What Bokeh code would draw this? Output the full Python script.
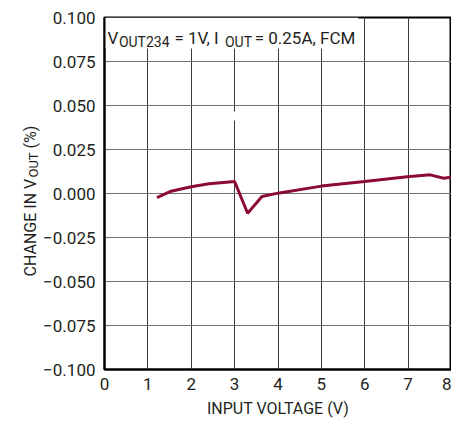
import math
from bokeh.plotting import figure
from bokeh.layouts import row
from bokeh.models import Range1d, FixedTicker, Label, BoxAnnotation
from bokeh.core.properties import value
from bokeh.embed import file_html
from bokeh.resources import INLINE

# ---- data ----
vin = [1.21, 1.51, 2.0, 2.41, 3.0, 3.30, 3.63, 4.0, 5.0, 6.0, 6.98, 7.51, 7.82, 8.0]
dvout = [-0.0023, 0.0011, 0.0038, 0.0055, 0.0068, -0.0112, -0.0017, 0.0002,
         0.0042, 0.0068, 0.0095, 0.0106, 0.0087, 0.0093]
x_ticks = [0, 1, 2, 3, 4, 5, 6, 7, 8]
y_ticks = [-0.1, -0.075, -0.05, -0.025, 0.0, 0.025, 0.05, 0.075, 0.1]
y_tick_labels = ["\u22120.100", "\u22120.075", "\u22120.050", "\u22120.025", "0.000",
                 "0.025", "0.050", "0.075", "0.100"]
x_title = "INPUT VOLTAGE (V)"
y_title_parts = ["CHANGE IN V", "OUT", "(%)"]

FONT = "Roboto"
TXT = "#231f20"

W, H = 451, 423
LW = 40            # width of the strip holding the vertical axis title
TOP, BOT = 17, 54  # frame borders (frames of the row are aligned)

# ---- strip with the rotated y-axis title (V with subscript OUT) ----
s = figure(width=LW, height=H, output_backend="svg", toolbar_location=None,
           x_axis_location=None, y_axis_location=None,
           x_range=Range1d(0, LW), y_range=Range1d(BOT, H - TOP),
           min_border_left=0, min_border_right=0, min_border_top=TOP, min_border_bottom=BOT)
s.grid.visible = False
s.outline_line_color = None
s.background_fill_color = "white"
s.border_fill_color = "white"
for txt, px, py, size in [(y_title_parts[0], 30, 276, "16px"),
                          (y_title_parts[1], 33, 177, "13px"),
                          (y_title_parts[2], 30, 148, "16px")]:
    s.text(x=[px], y=[H - py], text=[txt], angle=math.pi / 2,
           text_font=value(FONT), text_font_size=value(size), text_color=TXT,
           text_align="left", text_baseline="alphabetic")

# ---- main plot ----
p = figure(width=W - LW, height=H, output_backend="svg", toolbar_location=None,
           x_range=Range1d(0, 8), y_range=Range1d(-0.1, 0.1),
           min_border_left=101 - LW, min_border_right=0, min_border_top=TOP, min_border_bottom=BOT)

p.background_fill_color = "white"
p.border_fill_color = "white"
p.outline_line_color = "black"
p.outline_line_width = 2

for ax in (p.xaxis[0], p.yaxis[0]):
    ax.major_tick_line_color = None
    ax.minor_tick_line_color = None
    ax.major_tick_out = 0
    ax.major_tick_in = 0
    ax.axis_line_color = "black"
    ax.axis_line_width = 2
    ax.major_label_text_font = FONT
    ax.major_label_text_font_size = "17px"
    ax.major_label_text_color = TXT

p.xaxis.ticker = FixedTicker(ticks=x_ticks)
p.yaxis.ticker = FixedTicker(ticks=y_ticks)
p.yaxis.major_label_overrides = {t: s_ for t, s_ in zip(y_ticks, y_tick_labels)}
p.xaxis.major_label_standoff = 8
p.yaxis.major_label_standoff = 9

p.xaxis.axis_label = x_title
p.xaxis.axis_label_text_font = FONT
p.xaxis.axis_label_text_font_size = "16px"
p.xaxis.axis_label_text_font_style = "normal"
p.xaxis.axis_label_text_color = TXT
p.xaxis.axis_label_standoff = 6

p.xgrid.grid_line_color = "#3a3a3a"
p.xgrid.grid_line_width = 1
p.ygrid.grid_line_color = "#707070"
p.ygrid.grid_line_width = 1

# frame pixel -> data helpers for annotation placement
FL, FT = 101, 17
def fx(px):
    return (px - FL) / 43.75
def fy(py):
    return 0.1 - (py - FT) / 1760.0

# white box behind the condition label, and small gap on the 3V grid line
p.add_layout(BoxAnnotation(left=0, right=fx(357), top=0.1, bottom=fy(48),
                           fill_color="white", fill_alpha=1, line_color=None, level="underlay"))
p.add_layout(BoxAnnotation(left=fx(230), right=fx(236), top=fy(111), bottom=fy(120),
                           fill_color="white", fill_alpha=1, line_color=None, level="underlay"))

p.line(vin, dvout, line_color="#8c0b31", line_width=3)

def lab(text, px, py, size):
    p.add_layout(Label(x=fx(px), y=fy(py), text=text, text_font=FONT,
                       text_font_size=size, text_color=TXT,
                       text_align="left", text_baseline="alphabetic"))

# condition label with subscripts
lab("V", 104, 37.5, "17px")
lab("OUT234", 115.5, 41, "14px")
lab("= 1V, I", 171.5, 37.5, "17px")
lab("OUT", 222.5, 41, "14px")
lab("= 0.25A, FCM", 252.5, 37.5, "17px")

layout = row(s, p, spacing=0)
open("out.html", "w").write(file_html(layout, INLINE))
